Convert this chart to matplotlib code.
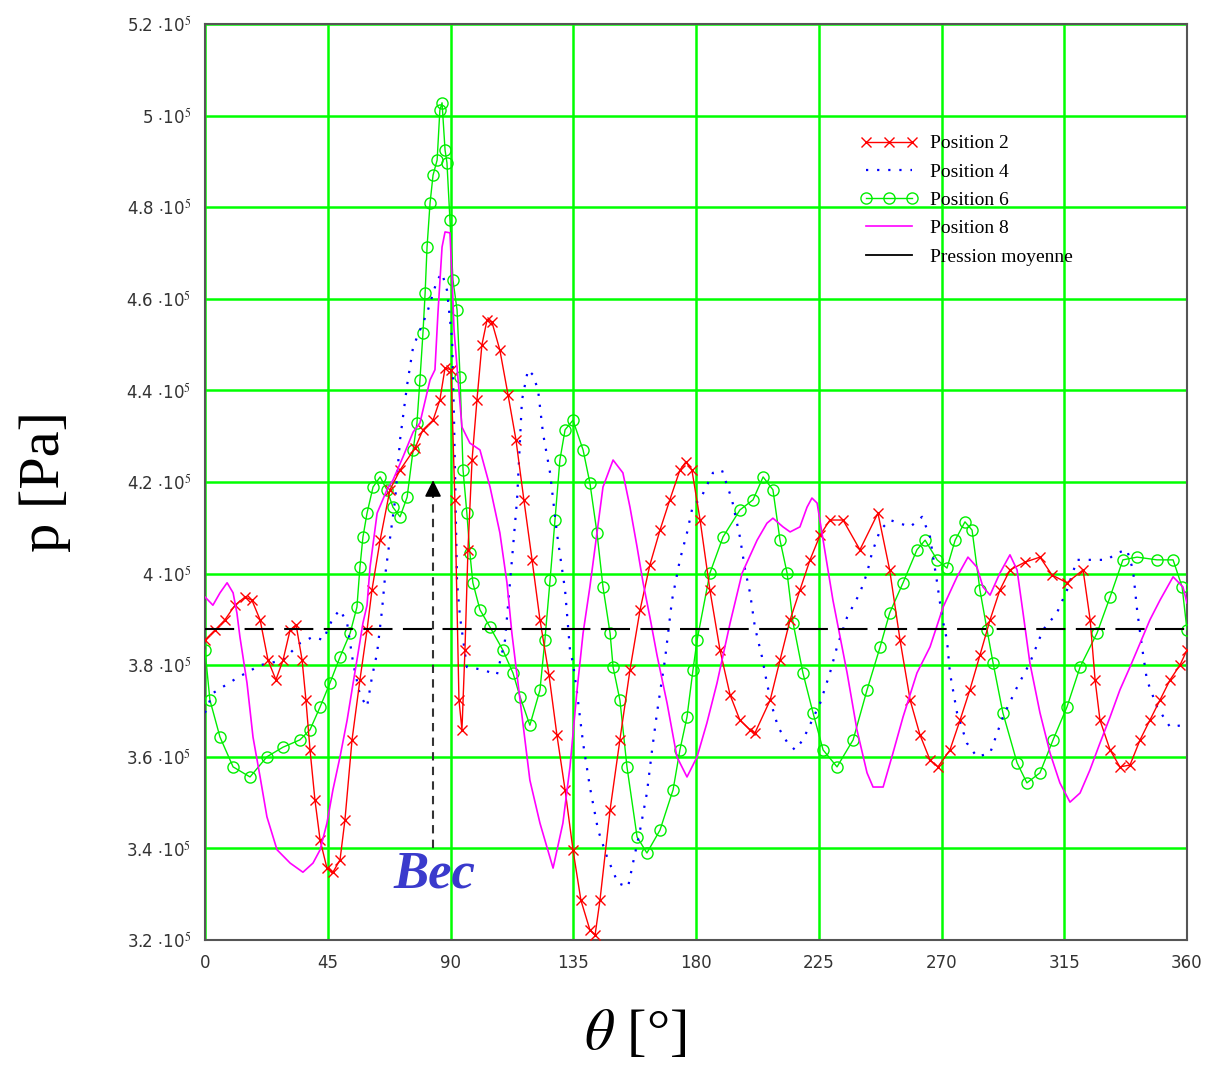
import matplotlib
matplotlib.use("Agg")
import matplotlib.pyplot as plt
from matplotlib.lines import Line2D
import numpy as np

plt.rcParams['mathtext.fontset'] = 'stix'

# ---------------- data (theta in degrees, pressure in 1e5 Pa) ----------------
theta_p2 = [0, 3.7, 7.3, 11.0, 14.7, 17.2, 20.2, 23.1, 26.0, 28.6, 31.2, 33.4, 35.6, 37.0, 38.5, 40.3,
            42.2, 44.7, 46.9, 49.5, 51.3, 53.9, 56.8, 59.4, 61.2, 64.2, 67.8, 71.5, 77.0, 79.9, 83.6,
            86.1, 88.0, 90.2, 91.6, 93.1, 94.2, 95.3, 96.4, 97.9, 99.7, 101.5, 103.4, 105.2, 108.1,
            111.1, 114.0, 116.9, 119.9, 122.8, 126.1, 129.0, 132.0, 134.9, 137.8, 141.1, 143.0, 144.8,
            148.5, 152.1, 155.8, 159.5, 163.1, 166.8, 170.4, 174.1, 176.3, 178.5, 181.5, 185.1, 188.8,
            192.5, 196.1, 199.8, 201.6, 207.2, 210.8, 214.5, 218.1, 221.8, 225.5, 229.1, 233.9, 240.1,
            246.7, 251.0, 254.8, 258.5, 262.1, 265.8, 268.7, 273.1, 276.8, 280.4, 284.1, 287.8, 291.4,
            295.1, 300.6, 306.1, 310.5, 316.0, 321.9, 324.5, 326.3, 328.1, 331.8, 335.4, 339.1, 342.8,
            346.4, 350.1, 353.8, 357.4, 360]
p_p2 = [3.855, 3.877, 3.899, 3.931, 3.949, 3.942, 3.899, 3.811, 3.768, 3.811, 3.877, 3.888, 3.811, 3.724,
        3.615, 3.506, 3.418, 3.357, 3.348, 3.375, 3.462, 3.637, 3.768, 3.877, 3.964, 4.073, 4.183, 4.226,
        4.274, 4.314, 4.335, 4.379, 4.449, 4.445, 4.161, 3.724, 3.659, 3.833, 4.052, 4.248, 4.379, 4.499,
        4.554, 4.549, 4.488, 4.390, 4.292, 4.161, 4.030, 3.899, 3.779, 3.648, 3.528, 3.397, 3.287, 3.222,
        3.211, 3.287, 3.484, 3.637, 3.790, 3.921, 4.019, 4.095, 4.161, 4.226, 4.244, 4.226, 4.117, 3.964,
        3.833, 3.735, 3.680, 3.659, 3.652, 3.724, 3.811, 3.899, 3.964, 4.030, 4.084, 4.117, 4.117, 4.052,
        4.132, 4.008, 3.855, 3.724, 3.648, 3.593, 3.578, 3.615, 3.680, 3.746, 3.822, 3.899, 3.964, 4.008,
        4.025, 4.036, 3.997, 3.980, 4.008, 3.899, 3.768, 3.680, 3.615, 3.578, 3.582, 3.637, 3.680, 3.724,
        3.768, 3.800, 3.833]

theta_p4 = [0, 2.9, 11.7, 20.2, 28.6, 34.8, 39.6, 43.3, 46.9, 49.5, 52.1, 54.3, 56.8, 59.4, 61.2, 63.1,
            64.9, 66.0, 67.1, 69.7, 71.5, 74.1, 76.3, 81.4, 85.1, 86.9, 88.7, 90.6, 91.3, 92.4, 93.5,
            96.0, 101.9, 107.0, 110.0, 111.8, 114.4, 116.2, 118.4, 120.2, 122.1, 123.9, 126.5, 129.0,
            132.0, 133.8, 134.9, 136.4, 138.6, 141.1, 144.1, 147.4, 151.4, 155.1, 156.9, 159.5, 162.0,
            163.9, 165.7, 167.5, 168.6, 171.2, 174.1, 176.7, 178.9, 181.5, 184.0, 186.2, 189.5, 193.2,
            196.1, 198.0, 199.8, 201.6, 204.2, 206.0, 207.9, 210.1, 213.4, 216.3, 219.2, 225.5, 229.1,
            231.7, 235.4, 240.1, 242.7, 244.5, 247.5, 251.1, 258.5, 262.9, 265.8, 268.4, 270.2, 272.0,
            273.1, 275.7, 279.3, 283.0, 287.8, 292.5, 297.7, 302.4, 307.2, 312.3, 316.0, 319.7, 324.4,
            330.7, 334.3, 338.0, 340.2, 341.7, 343.5, 345.3, 349.0, 353.8, 358.2, 360]
p_p4 = [3.696, 3.739, 3.772, 3.800, 3.811, 3.848, 3.862, 3.855, 3.903, 3.921, 3.892, 3.805, 3.735, 3.709,
        3.774, 3.827, 3.921, 3.993, 4.045, 4.161, 4.292, 4.412, 4.495, 4.569, 4.641, 4.656, 4.619, 4.510,
        4.335, 3.980, 3.905, 3.796, 3.790, 3.779, 3.855, 3.980, 4.161, 4.379, 4.445, 4.434, 4.401, 4.307,
        4.220, 4.089, 3.964, 3.833, 3.805, 3.739, 3.630, 3.534, 3.440, 3.381, 3.324, 3.316, 3.368, 3.440,
        3.521, 3.615, 3.696, 3.768, 3.811, 3.942, 4.030, 4.089, 4.150, 4.161, 4.193, 4.220, 4.226, 4.161,
        4.080, 4.008, 3.958, 3.883, 3.818, 3.761, 3.709, 3.665, 3.632, 3.615, 3.637, 3.717, 3.783, 3.840,
        3.905, 3.958, 4.001, 4.045, 4.095, 4.117, 4.102, 4.124, 4.080, 3.980, 3.905, 3.855, 3.783, 3.696,
        3.630, 3.600, 3.608, 3.687, 3.752, 3.805, 3.877, 3.914, 3.964, 4.030, 4.030, 4.030, 4.045, 4.052,
        4.008, 3.921, 3.840, 3.768, 3.709, 3.665, 3.669, 3.676]

theta_p6 = [0, 1.8, 5.5, 10.3, 16.5, 22.7, 28.6, 34.8, 38.5, 42.2, 45.8, 49.5, 53.2, 55.7, 56.8, 57.9,
            59.4, 61.6, 64.2, 66.7, 68.9, 71.5, 74.1, 76.3, 77.7, 78.8, 79.9, 80.7, 81.4, 82.5, 83.6,
            85.1, 86.1, 86.9, 88.0, 88.7, 89.8, 90.9, 92.4, 93.5, 94.6, 96.0, 97.1, 98.2, 100.8, 104.5,
            109.2, 112.9, 115.5, 119.1, 122.8, 124.6, 126.5, 128.3, 130.1, 132.0, 134.9, 138.6, 141.1,
            143.7, 145.9, 148.5, 149.6, 152.1, 154.7, 158.4, 162.0, 166.8, 171.6, 174.1, 176.7, 178.9,
            180.4, 185.1, 189.9, 196.1, 200.9, 204.6, 208.2, 210.8, 213.4, 215.6, 219.2, 222.9, 226.6,
            231.7, 237.6, 242.7, 247.5, 251.0, 255.9, 261.0, 264.0, 268.4, 272.0, 275.0, 278.6, 281.2,
            284.1, 286.7, 288.9, 292.5, 297.7, 301.3, 306.1, 310.9, 316.0, 320.8, 327.0, 331.8, 336.5,
            341.7, 349.0, 354.9, 358.2, 360]
p_p6 = [3.833, 3.724, 3.643, 3.578, 3.556, 3.600, 3.621, 3.637, 3.659, 3.709, 3.761, 3.818, 3.870, 3.927,
        4.014, 4.080, 4.132, 4.189, 4.211, 4.183, 4.145, 4.124, 4.167, 4.270, 4.329, 4.423, 4.525, 4.613,
        4.713, 4.809, 4.870, 4.903, 5.012, 5.028, 4.925, 4.897, 4.772, 4.641, 4.576, 4.429, 4.226, 4.132,
        4.045, 3.980, 3.921, 3.883, 3.833, 3.783, 3.731, 3.669, 3.746, 3.855, 3.986, 4.117, 4.248, 4.314,
        4.335, 4.270, 4.198, 4.089, 3.971, 3.870, 3.796, 3.724, 3.578, 3.425, 3.390, 3.440, 3.528, 3.615,
        3.687, 3.790, 3.855, 4.001, 4.080, 4.139, 4.161, 4.211, 4.183, 4.073, 4.001, 3.892, 3.783, 3.696,
        3.615, 3.578, 3.637, 3.746, 3.840, 3.914, 3.980, 4.052, 4.073, 4.030, 4.012, 4.073, 4.113, 4.095,
        3.964, 3.877, 3.805, 3.696, 3.587, 3.543, 3.565, 3.637, 3.709, 3.796, 3.870, 3.949, 4.030, 4.036,
        4.030, 4.030, 3.971, 3.877]

theta_p8 = [0, 2.9, 5.5, 8.1, 10.3, 11.7, 12.8, 15.4, 17.6, 20.2, 22.7, 26.4, 31.2, 35.9, 39.6, 42.2,
            44.7, 46.9, 49.5, 52.1, 54.3, 55.7, 57.9, 59.4, 60.5, 63.1, 66.7, 68.9, 72.6, 76.3, 78.8,
            82.5, 84.3, 85.4, 86.9, 88.0, 89.8, 90.6, 91.3, 92.4, 94.2, 97.1, 100.8, 104.5, 108.1, 110.7,
            112.5, 115.5, 119.1, 122.8, 127.6, 131.2, 133.8, 136.4, 138.6, 141.1, 143.7, 145.9, 149.6,
            153.2, 155.8, 158.4, 160.6, 163.1, 165.7, 169.4, 173.0, 176.7, 180.4, 184.0, 187.7, 192.5,
            196.9, 202.4, 206.0, 208.2, 211.9, 214.5, 218.1, 220.7, 222.5, 224.4, 226.6, 230.2, 235.4,
            239.0, 242.7, 244.9, 248.6, 252.2, 255.9, 261.0, 265.8, 270.6, 275.7, 279.7, 283.0, 285.2,
            287.8, 291.4, 295.1, 297.7, 299.9, 302.4, 306.1, 309.8, 313.4, 317.1, 320.8, 324.4, 328.1,
            331.8, 335.4, 339.1, 342.8, 346.4, 350.1, 354.9, 358.5, 360]
p_p8 = [3.949, 3.931, 3.958, 3.980, 3.958, 3.914, 3.862, 3.761, 3.643, 3.556, 3.469, 3.397, 3.368, 3.348,
        3.368, 3.397, 3.455, 3.528, 3.600, 3.680, 3.761, 3.811, 3.892, 3.931, 4.014, 4.132, 4.183, 4.204,
        4.255, 4.309, 4.329, 4.423, 4.445, 4.569, 4.713, 4.746, 4.744, 4.641, 4.532, 4.451, 4.320, 4.285,
        4.270, 4.189, 4.089, 3.980, 3.870, 3.724, 3.549, 3.455, 3.357, 3.455, 3.578, 3.746, 3.870, 3.971,
        4.089, 4.189, 4.248, 4.220, 4.145, 4.058, 3.980, 3.905, 3.822, 3.717, 3.600, 3.556, 3.600, 3.674,
        3.761, 3.892, 4.001, 4.073, 4.110, 4.121, 4.102, 4.091, 4.102, 4.145, 4.165, 4.154, 4.073, 3.942,
        3.783, 3.659, 3.565, 3.534, 3.534, 3.608, 3.687, 3.783, 3.840, 3.927, 3.993, 4.036, 4.014, 3.971,
        3.953, 4.001, 4.041, 4.008, 3.914, 3.805, 3.696, 3.608, 3.543, 3.501, 3.521, 3.571, 3.630, 3.687,
        3.746, 3.796, 3.848, 3.899, 3.942, 3.993, 3.971, 3.936]

p_mean = 3.88  # 1e5 Pa

x_ticks = [0, 45, 90, 135, 180, 225, 270, 315, 360]
y_ticks = [3.2, 3.4, 3.6, 3.8, 4.0, 4.2, 4.4, 4.6, 4.8, 5.0, 5.2]
y_tick_labels = [r"3.2 $\cdot$10$^5$", r"3.4 $\cdot$10$^5$", r"3.6 $\cdot$10$^5$", r"3.8 $\cdot$10$^5$",
                 r"4 $\cdot$10$^5$", r"4.2 $\cdot$10$^5$", r"4.4 $\cdot$10$^5$", r"4.6 $\cdot$10$^5$",
                 r"4.8 $\cdot$10$^5$", r"5 $\cdot$10$^5$", r"5.2 $\cdot$10$^5$"]

labels = ["Position 2", "Position 4", "Position 6", "Position 8", "Pression moyenne"]
bec_theta = 83.6
bec_p_low, bec_p_high = 3.40, 4.21

# ---------------- figure ----------------
scale = 1e5
fig = plt.figure(figsize=(12.14, 10.68), dpi=100)
ax = fig.add_axes([205/1214, 1-940/1068, (1187-205)/1214, (940-24)/1068])

def arr(v):
    return np.asarray(v) * scale

l2, = ax.plot(theta_p2, arr(p_p2), color='#ff0000', lw=1.0, marker='x', ms=7, mew=1.0, zorder=5)
l4, = ax.plot(theta_p4, arr(p_p4), color='#0000ff', lw=1.6, linestyle=(0, (1, 4)), zorder=4)
l6, = ax.plot(theta_p6, arr(p_p6), color='#00ee00', lw=1.0, marker='o', ms=8, mfc='none',
              mew=1.0, zorder=3)
l8, = ax.plot(theta_p8, arr(p_p8), color='#ff00ff', lw=1.2, zorder=6)
ax.plot([0, 360], [p_mean*scale, p_mean*scale], color='black', lw=1.5,
        linestyle=(0, (14, 5)), zorder=7)
lm = Line2D([], [], color='black', lw=1.3)

# Bec arrow
ax.plot([bec_theta, bec_theta], [bec_p_low*scale, (bec_p_high-0.03)*scale], color='#333333',
        lw=1.5, linestyle=(0, (4, 3)), zorder=8)
ax.annotate('', xy=(bec_theta, bec_p_high*scale), xytext=(bec_theta, (bec_p_high-0.04)*scale),
            arrowprops=dict(arrowstyle='-|>', color='black', lw=1.2, mutation_scale=25), zorder=8)
ax.text(bec_theta + 0.5, 3.342*scale, 'Bec', color='#3a3acc', fontsize=38, style='italic',
        fontweight='bold', family='Liberation Serif', ha='center', va='center', zorder=9)

ax.set_xlim(0, 360)
ax.set_ylim(3.2*scale, 5.2*scale)
ax.set_xticks(x_ticks)
ax.set_xticklabels([str(t) for t in x_ticks], fontsize=12, color='#333333')
ax.set_yticks([v*scale for v in y_ticks])
ax.set_yticklabels(y_tick_labels, fontsize=12, color='#333333')
ax.tick_params(length=0, pad=10)
ax.grid(True, color='#00ff00', lw=1.8)
ax.set_axisbelow(True)
for s in ax.spines.values():
    s.set_color('#555555')
    s.set_linewidth(1.5)

fig.legend([l2, l4, l6, l8, lm], labels, loc='upper left',
           bbox_to_anchor=(850/1214, 1-125/1068), frameon=False, borderpad=0,
           handlelength=3.0, numpoints=3, labelspacing=0.55, handletextpad=0.6,
           prop={'family': 'Liberation Serif', 'size': 14})

fig.text(45/1214, 1-482/1068, 'p [Pa]', rotation=90, fontsize=42, family='Liberation Serif',
         ha='center', va='center')
fig.text(635/1214, 1-1035/1068, r'$\mathit{\theta}$ [°]', fontsize=42, family='Liberation Serif',
         ha='center', va='center')

fig.savefig('out.png', dpi=100)
